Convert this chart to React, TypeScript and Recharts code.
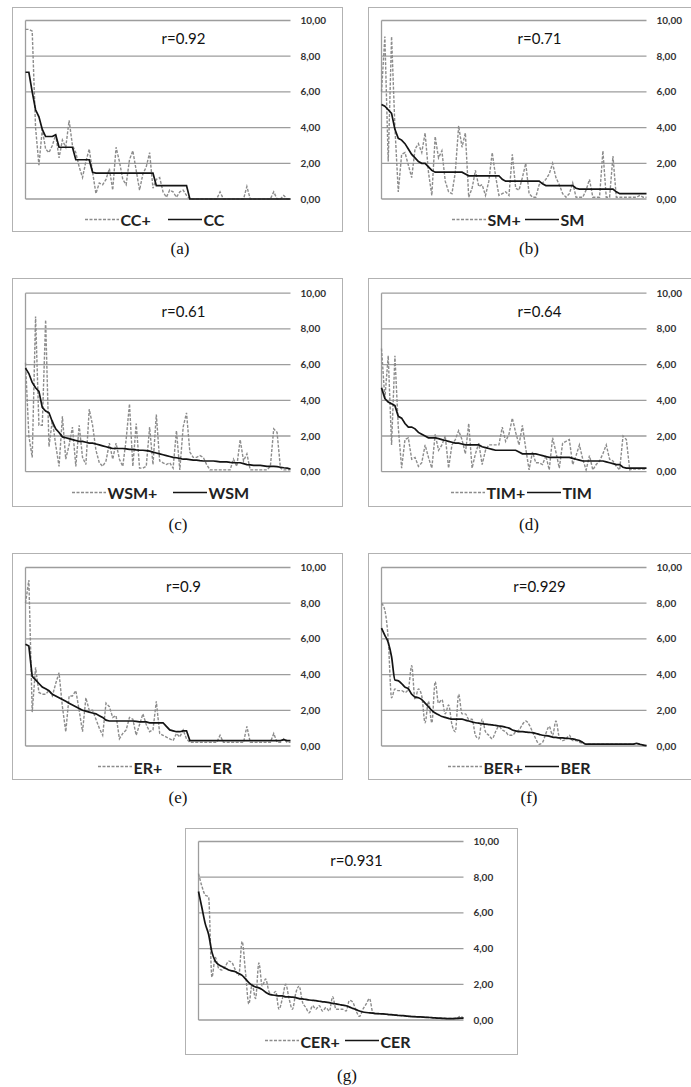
import React from 'react';
import { LineChart, Line, XAxis, YAxis, CartesianGrid, ReferenceLine } from 'recharts';

// values (80 ranked items each)
const ccPlus = [
  9.5, 9.5, 9.4, 4.0, 1.9, 3.9, 2.8, 2.6, 3.0, 3.6,
  2.3, 3.3, 2.9, 4.4, 3.0, 2.6, 1.8, 1.2, 2.1, 2.8,
  1.5, 0.3, 0.9, 0.8, 1.1, 1.7, 0.5, 2.9, 2.1, 1.1,
  0.8, 2.2, 2.7, 1.6, 0.5, 1.4, 1.8, 2.6, 0.6, 1.1,
  1.2, 0.4, 0.1, 0.5, 0.4, 0.1, 0.4, 0.5, 0.2, 0,
  0, 0, 0, 0, 0, 0, 0, 0, 0.4, 0,
  0, 0, 0, 0, 0, 0, 0.7, 0, 0, 0,
  0, 0, 0, 0, 0.4, 0, 0, 0.2, 0, 0,
];
const cc = [
  7.1, 7.1, 6.0, 5.0, 4.6, 3.9, 3.5, 3.5, 3.5, 3.6,
  2.9, 2.9, 2.9, 2.9, 2.9, 2.2, 2.2, 2.2, 2.2, 2.2,
  1.5, 1.45, 1.45, 1.45, 1.45, 1.45, 1.45, 1.45, 1.45, 1.45,
  1.45, 1.45, 1.45, 1.45, 1.45, 1.45, 1.45, 1.45, 1.45, 0.75,
  0.75, 0.75, 0.75, 0.75, 0.75, 0.75, 0.75, 0.75, 0.75, 0,
  0, 0, 0, 0, 0, 0, 0, 0, 0, 0,
  0, 0, 0, 0, 0, 0, 0, 0, 0, 0,
  0, 0, 0, 0, 0, 0, 0, 0, 0, 0,
];

const smPlus = [
  6.0, 9.1, 2.1, 9.1, 4.0, 0.4, 2.5, 2.6, 1.9, 1.2,
  2.8, 3.1, 2.6, 3.7, 1.5, 0.2, 3.5, 2.3, 2.7, 1.0,
  0.4, 0.3, 1.5, 4.1, 2.9, 3.7, 0.1, 0.6, 1.6, 0.7,
  0.8, 0.2, 1.0, 2.6, 1.3, 0.2, 0.3, 0.4, 0.2, 2.5,
  0.6, 0.5, 1.2, 2.0, 0.3, 0.1, 0.1, 0.8, 0.9, 1.1,
  1.4, 2.0, 1.2, 0.8, 0.3, 0.1, 0.3, 0.9, 0.1, 0.1,
  0.1, 0.5, 1.1, 0.1, 0.1, 0.1, 2.7, 0.1, 0.1, 2.4,
  0.1, 0.1, 0.1, 0.1, 0.1, 0.1, 0.1, 0.2, 0.1, 0.1,
];
const sm = [
  5.3, 5.2, 5.0, 4.8, 3.9, 3.4, 3.3, 3.1, 2.8, 2.5,
  2.3, 2.1, 2.0, 2.0, 1.8, 1.6, 1.5, 1.5, 1.5, 1.5,
  1.5, 1.5, 1.5, 1.5, 1.5, 1.4, 1.3, 1.3, 1.3, 1.3,
  1.3, 1.3, 1.3, 1.3, 1.3, 1.3, 1.1, 1.0, 1.0, 1.0,
  1.0, 1.0, 1.0, 1.0, 1.0, 1.0, 1.0, 1.0, 0.85, 0.75,
  0.75, 0.75, 0.75, 0.75, 0.75, 0.75, 0.75, 0.75, 0.6, 0.55,
  0.55, 0.55, 0.55, 0.55, 0.55, 0.55, 0.55, 0.55, 0.55, 0.55,
  0.4, 0.3, 0.3, 0.3, 0.3, 0.3, 0.3, 0.3, 0.3, 0.3,
];

const wsmPlus = [
  6.1, 2.0, 0.8, 8.7, 2.6, 2.6, 8.5, 1.4, 2.9, 1.5,
  0.3, 3.1, 0.7, 1.5, 2.5, 0.3, 2.6, 0.8, 0.4, 3.5,
  2.6, 1.2, 0.5, 0.3, 0.6, 1.6, 0.7, 1.6, 0.7, 0.3,
  1.8, 3.8, 0.3, 2.7, 0.2, 0.2, 0.3, 2.5, 0.4, 3.2,
  0.6, 0.5, 0.4, 0.5, 0.2, 2.3, 0.1, 2.5, 3.3, 1.1,
  0.8, 0.8, 0.9, 0.8, 0.4, 0.1, 0.1, 0.1, 0.1, 0.1,
  0.1, 0.1, 0.7, 0.3, 1.8, 0.6, 1.0, 0.1, 0.1, 0.1,
  0.1, 0.1, 0.1, 0.3, 2.4, 2.2, 0.2, 0.1, 0.1, 0.1,
];
const wsm = [
  5.8, 5.5, 5.0, 4.7, 4.5, 3.6, 3.4, 3.3, 2.8, 2.4,
  2.2, 1.95, 1.9, 1.85, 1.8, 1.75, 1.7, 1.7, 1.65, 1.6,
  1.6, 1.55, 1.5, 1.45, 1.4, 1.35, 1.3, 1.3, 1.3, 1.3,
  1.28, 1.25, 1.25, 1.22, 1.2, 1.2, 1.18, 1.15, 1.1, 1.05,
  1.0, 0.95, 0.9, 0.85, 0.8, 0.78, 0.75, 0.7, 0.7, 0.68,
  0.65, 0.65, 0.62, 0.6, 0.6, 0.6, 0.6, 0.58, 0.55, 0.55,
  0.55, 0.52, 0.5, 0.5, 0.5, 0.45, 0.4, 0.38, 0.35, 0.35,
  0.35, 0.33, 0.3, 0.3, 0.3, 0.28, 0.25, 0.22, 0.2, 0.15,
];

const timPlus = [
  6.9, 4.1, 6.5, 1.5, 6.5, 2.5, 0.2, 1.8, 1.9, 0.7,
  0.8, 0.3, 0.5, 1.5, 0.8, 0.2, 2.1, 1.2, 1.5, 2.0,
  0.2, 1.5, 1.8, 2.3, 1.8, 1.0, 2.7, 0.2, 1.0, 1.6,
  0.4, 1.2, 1.5, 1.5, 1.5, 1.5, 2.5, 1.7, 2.1, 3.0,
  2.2, 1.5, 2.6, 1.3, 0.1, 1.1, 0.5, 0.5, 0.4, 0.9,
  0.1, 1.9, 1.1, 0.2, 1.6, 1.7, 1.8, 0.4, 0.9, 1.5,
  0.7, 0.1, 0.9, 0.1, 0.4, 0.6, 1.0, 1.5, 0.7, 0.6,
  0.3, 0.1, 2.0, 1.8, 0.1, 0.15, 0.15, 0.15, 0.15, 0.15,
];
const tim = [
  4.7, 4.1, 3.9, 3.8, 3.7, 3.1, 3.0, 2.7, 2.5, 2.5,
  2.4, 2.2, 2.1, 2.0, 1.9, 1.9, 1.9, 1.85, 1.8, 1.75,
  1.7, 1.65, 1.6, 1.6, 1.55, 1.5, 1.5, 1.5, 1.5, 1.5,
  1.4, 1.35, 1.3, 1.25, 1.2, 1.2, 1.2, 1.2, 1.2, 1.2,
  1.2, 1.1, 1.0, 1.0, 1.0, 1.0, 1.0, 0.95, 0.9, 0.85,
  0.8, 0.8, 0.8, 0.8, 0.8, 0.8, 0.8, 0.75, 0.7, 0.65,
  0.6, 0.6, 0.6, 0.6, 0.6, 0.6, 0.6, 0.55, 0.5, 0.45,
  0.4, 0.4, 0.25, 0.2, 0.2, 0.2, 0.2, 0.2, 0.2, 0.2,
];

const erPlus = [
  8.0, 9.3, 1.9, 4.4, 3.0, 2.9, 2.9, 3.1, 2.8, 3.5,
  4.1, 2.2, 0.8, 2.8, 2.8, 3.1, 2.0, 0.8, 2.7, 2.0,
  2.0, 1.5, 1.0, 0.6, 2.4, 2.2, 1.6, 1.7, 0.4, 0.7,
  0.9, 1.6, 1.5, 0.6, 1.2, 1.8, 1.2, 0.8, 0.9, 2.5,
  0.7, 0.6, 0.5, 0.4, 0.3, 0.7, 0.5, 0.9, 0.4, 0.2,
  0.2, 0.2, 0.2, 0.2, 0.2, 0.2, 0.2, 0.2, 0.6, 0.2,
  0.2, 0.2, 0.2, 0.2, 0.2, 0.2, 1.1, 0.2, 0.2, 0.2,
  0.2, 0.2, 0.2, 0.2, 0.7, 0.2, 0.2, 0.4, 0.2, 0.2,
];
const er = [
  5.7, 5.6, 3.9, 3.7, 3.5, 3.3, 3.2, 3.1, 2.9, 2.8,
  2.7, 2.6, 2.5, 2.4, 2.3, 2.2, 2.1, 2.0, 1.95, 1.9,
  1.85, 1.8, 1.7, 1.6, 1.45, 1.4, 1.4, 1.4, 1.4, 1.4,
  1.4, 1.4, 1.4, 1.38, 1.35, 1.35, 1.35, 1.3, 1.3, 1.3,
  1.3, 1.3, 1.1, 0.9, 0.85, 0.8, 0.8, 0.85, 0.85, 0.3,
  0.3, 0.3, 0.3, 0.3, 0.3, 0.3, 0.3, 0.3, 0.3, 0.3,
  0.3, 0.3, 0.3, 0.3, 0.3, 0.3, 0.3, 0.3, 0.3, 0.3,
  0.3, 0.3, 0.3, 0.3, 0.3, 0.3, 0.3, 0.35, 0.3, 0.3,
];

const berPlus = [
  8.0, 7.6, 6.0, 2.7, 3.2, 3.1, 3.1, 3.0, 3.2, 4.5,
  2.6, 3.2, 2.8, 1.3, 2.5, 1.3, 3.6, 2.4, 2.6, 1.8,
  2.3, 1.2, 0.8, 2.9, 1.8, 1.8, 1.5, 1.5, 0.6, 0.4,
  1.5, 0.8, 0.6, 0.4, 0.8, 1.1, 0.9, 0.8, 0.6, 0.6,
  0.8, 0.9, 1.2, 1.4, 1.2, 0.8, 0.4, 0.1, 0.2, 0.7,
  1.1, 0.6, 1.4, 0.5, 0.3, 0.4, 0.6, 0.3, 0.3, 0.2,
  0.15, 0.1, 0.1, 0.1, 0.1, 0.1, 0.1, 0.1, 0.1, 0.1,
  0.1, 0.1, 0.1, 0.1, 0.1, 0.1, 0.15, 0.1, 0.05, 0.02,
];
const ber = [
  6.6, 6.2, 5.8, 5.0, 3.7, 3.65, 3.5, 3.3, 3.2, 2.9,
  2.75, 2.7, 2.6, 2.4, 2.2, 2.0, 1.85, 1.75, 1.65, 1.6,
  1.55, 1.5, 1.5, 1.5, 1.5, 1.45, 1.4, 1.35, 1.3, 1.28,
  1.25, 1.22, 1.2, 1.18, 1.15, 1.12, 1.1, 1.05, 1.0, 0.9,
  0.85, 0.8, 0.8, 0.78, 0.76, 0.75, 0.7, 0.65, 0.6, 0.58,
  0.55, 0.5, 0.48, 0.46, 0.45, 0.43, 0.42, 0.4, 0.35, 0.3,
  0.2, 0.1, 0.1, 0.1, 0.1, 0.1, 0.1, 0.1, 0.1, 0.1,
  0.1, 0.1, 0.1, 0.1, 0.1, 0.1, 0.15, 0.1, 0.05, 0.02,
];

const cerPlus = [
  8.2, 7.5, 7.0, 6.9, 2.4, 3.5, 2.9, 2.8, 3.0, 3.3,
  3.2, 2.8, 2.5, 4.4, 2.7, 0.9, 2.0, 1.2, 3.2, 1.9,
  2.3, 1.6, 1.4, 1.6, 0.6, 1.2, 2.0, 1.2, 0.6, 1.5,
  1.9, 1.0, 0.7, 0.4, 0.8, 0.6, 0.8, 0.5, 0.7, 0.5,
  1.3, 0.6, 0.6, 0.6, 0.5, 1.1, 1.0, 0.5, 0.2, 0.6,
  0.9, 1.2, 0.4, 0.36, 0.35, 0.34, 0.32, 0.3, 0.29, 0.27,
  0.25, 0.24, 0.22, 0.2, 0.19, 0.18, 0.17, 0.16, 0.15, 0.14,
  0.12, 0.11, 0.1, 0.09, 0.08, 0.08, 0.08, 0.09, 0.2, 0.1,
];
const cer = [
  7.2, 6.3, 5.4, 4.8, 3.8, 3.3, 3.1, 3.0, 2.9, 2.8,
  2.75, 2.7, 2.6, 2.5, 2.3, 2.1, 1.95, 1.85, 1.8, 1.7,
  1.55, 1.45, 1.4, 1.38, 1.35, 1.35, 1.3, 1.3, 1.28, 1.25,
  1.2, 1.18, 1.15, 1.12, 1.1, 1.08, 1.05, 1.02, 1.0, 0.97,
  0.93, 0.9, 0.87, 0.83, 0.8, 0.72, 0.65, 0.58, 0.5, 0.45,
  0.42, 0.4, 0.38, 0.36, 0.35, 0.34, 0.32, 0.3, 0.29, 0.27,
  0.25, 0.24, 0.22, 0.2, 0.19, 0.18, 0.17, 0.16, 0.15, 0.14,
  0.12, 0.11, 0.1, 0.09, 0.08, 0.08, 0.08, 0.09, 0.1, 0.1,
];

const yTicks = [0, 2, 4, 6, 8, 10];

const FONT = 'Lato, sans-serif';
const BORDER = 1.5;
const PLOT_LEFT = 14;
const PLOT_W = 265;
const PLOT_H = 178.5;
const AXIS_W = 42;
const DASH_LEN = 34;

type PanelProps = {
  left: number;
  top: number;
  boxW: number;
  boxH: number;
  plotTop: number;
  plus: number[];
  base: number[];
  plusName: string;
  baseName: string;
  r: string;
  caption: string;
  capX: number;
  capY: number;
  dashX: number;
  solidX: number;
  smooth?: boolean;
};

function Panel(p: PanelProps) {
  const data = p.base.map((b, i) => ({ i, plus: p.plus[i], base: b }));
  const chartW = p.boxW - 2 * BORDER;
  const chartH = p.boxH - 2 * BORDER;
  const mLeft = PLOT_LEFT - BORDER;
  const mTop = p.plotTop - BORDER;
  const mBottom = chartH - mTop - PLOT_H;
  const mRight = chartW - mLeft - PLOT_W - AXIS_W;
  const curve = p.smooth ? 'monotone' : 'linear';
  const legendY = p.plotTop + PLOT_H + 20.5;

  return (
    <>
      <div
        style={{
          position: 'absolute',
          left: p.left,
          top: p.top,
          width: p.boxW,
          height: p.boxH,
          border: `${BORDER}px solid #b2b2b2`,
          boxSizing: 'border-box',
          background: '#fff',
        }}
      >
        <LineChart
          width={chartW}
          height={chartH}
          data={data}
          margin={{ top: mTop, left: mLeft, right: mRight, bottom: mBottom }}
        >
          <CartesianGrid vertical={false} stroke="#9d9d9d" strokeWidth={1.3} />
          <XAxis type="number" dataKey="i" domain={[0, 79]} hide />
          <YAxis
            orientation="right"
            domain={[0, 10]}
            ticks={yTicks}
            axisLine={false}
            tickLine={false}
            width={AXIS_W}
            tickMargin={4}
            tick={{ fontSize: 10, fill: '#333', fontFamily: FONT, fontWeight: 700 }}
            tickFormatter={(v: number) => v.toFixed(2).replace('.', ',')}
          />
          <ReferenceLine x={0} stroke="#9d9d9d" strokeWidth={1.3} />
          <Line
            type={curve}
            dataKey="plus"
            stroke="#8c8c8c"
            strokeWidth={1.4}
            strokeDasharray="3 1.5"
            dot={false}
            isAnimationActive={false}
          />
          <Line
            type={curve}
            dataKey="base"
            stroke="#141414"
            strokeWidth={1.7}
            dot={false}
            isAnimationActive={false}
          />
        </LineChart>
        <div
          style={{
            position: 'absolute',
            left: 172 - BORDER,
            top: p.plotTop + 18 - BORDER,
            transform: 'translate(-50%, -50%)',
            fontFamily: FONT,
            fontSize: 15,
            color: '#111',
            whiteSpace: 'nowrap',
          }}
        >
          {p.r}
        </div>
        {[
          { x: p.dashX, name: p.plusName, dashed: true },
          { x: p.solidX, name: p.baseName, dashed: false },
        ].map((it) => (
          <div
            key={it.name}
            style={{
              position: 'absolute',
              left: it.x - BORDER,
              top: legendY - BORDER,
              transform: 'translateY(-50%)',
              display: 'flex',
              alignItems: 'center',
              fontFamily: FONT,
              fontSize: 16,
              fontWeight: 700,
              color: '#222',
              whiteSpace: 'nowrap',
            }}
          >
            <svg width={DASH_LEN} height={6} style={{ marginRight: 2 }}>
              <line
                x1={0}
                y1={3}
                x2={DASH_LEN}
                y2={3}
                stroke={it.dashed ? '#8c8c8c' : '#141414'}
                strokeWidth={it.dashed ? 1.4 : 1.7}
                strokeDasharray={it.dashed ? '3 1.5' : undefined}
              />
            </svg>
            <span>{it.name}</span>
          </div>
        ))}
      </div>
      <div
        style={{
          position: 'absolute',
          left: p.capX,
          top: p.capY,
          transform: 'translate(-50%, -50%)',
          fontFamily: "'Liberation Serif', 'DejaVu Serif', serif",
          fontSize: 17,
          color: '#111',
        }}
      >
        {p.caption}
      </div>
    </>
  );
}

export default function App() {
  return (
    <div
      style={{
        position: 'absolute',
        left: 0,
        top: 0,
        width: 691,
        height: 1087,
        overflow: 'hidden',
        background: '#fff',
      }}
    >
      <Panel left={12} top={6.7} boxW={331} boxH={225.6} plotTop={14} plus={ccPlus} base={cc}
        plusName="CC+" baseName="CC" r="r=0.92" caption="(a)" capX={180} capY={249} dashX={73} solidX={156} />
      <Panel left={368} top={6.7} boxW={331} boxH={225.6} plotTop={14} plus={smPlus} base={sm}
        plusName="SM+" baseName="SM" r="r=0.71" caption="(b)" capX={529} capY={249} dashX={84} solidX={157} />
      <Panel left={12} top={278.3} boxW={331} boxH={228.4} plotTop={15.7} plus={wsmPlus} base={wsm}
        plusName="WSM+" baseName="WSM" r="r=0.61" caption="(c)" capX={178} capY={525} dashX={60} solidX={161} />
      <Panel left={368} top={278.3} boxW={331} boxH={228.4} plotTop={15.7} plus={timPlus} base={tim}
        plusName="TIM+" baseName="TIM" r="r=0.64" caption="(d)" capX={529} capY={525} dashX={83} solidX={159} />
      <Panel left={12} top={553.3} boxW={331} boxH={226.7} plotTop={15} plus={erPlus} base={er}
        plusName="ER+" baseName="ER" r="r=0.9" caption="(e)" capX={178} capY={798} dashX={86} solidX={165} />
      <Panel left={368} top={553.3} boxW={331} boxH={226.7} plotTop={15} plus={berPlus} base={ber}
        plusName="BER+" baseName="BER" r="r=0.929" caption="(f)" capX={529} capY={798} dashX={80} solidX={157} smooth />
      <Panel left={185} top={828.3} boxW={333} boxH={226.7} plotTop={14} plus={cerPlus} base={cer}
        plusName="CER+" baseName="CER" r="r=0.931" caption="(g)" capX={347} capY={1076} dashX={80} solidX={160} smooth />
    </div>
  );
}
